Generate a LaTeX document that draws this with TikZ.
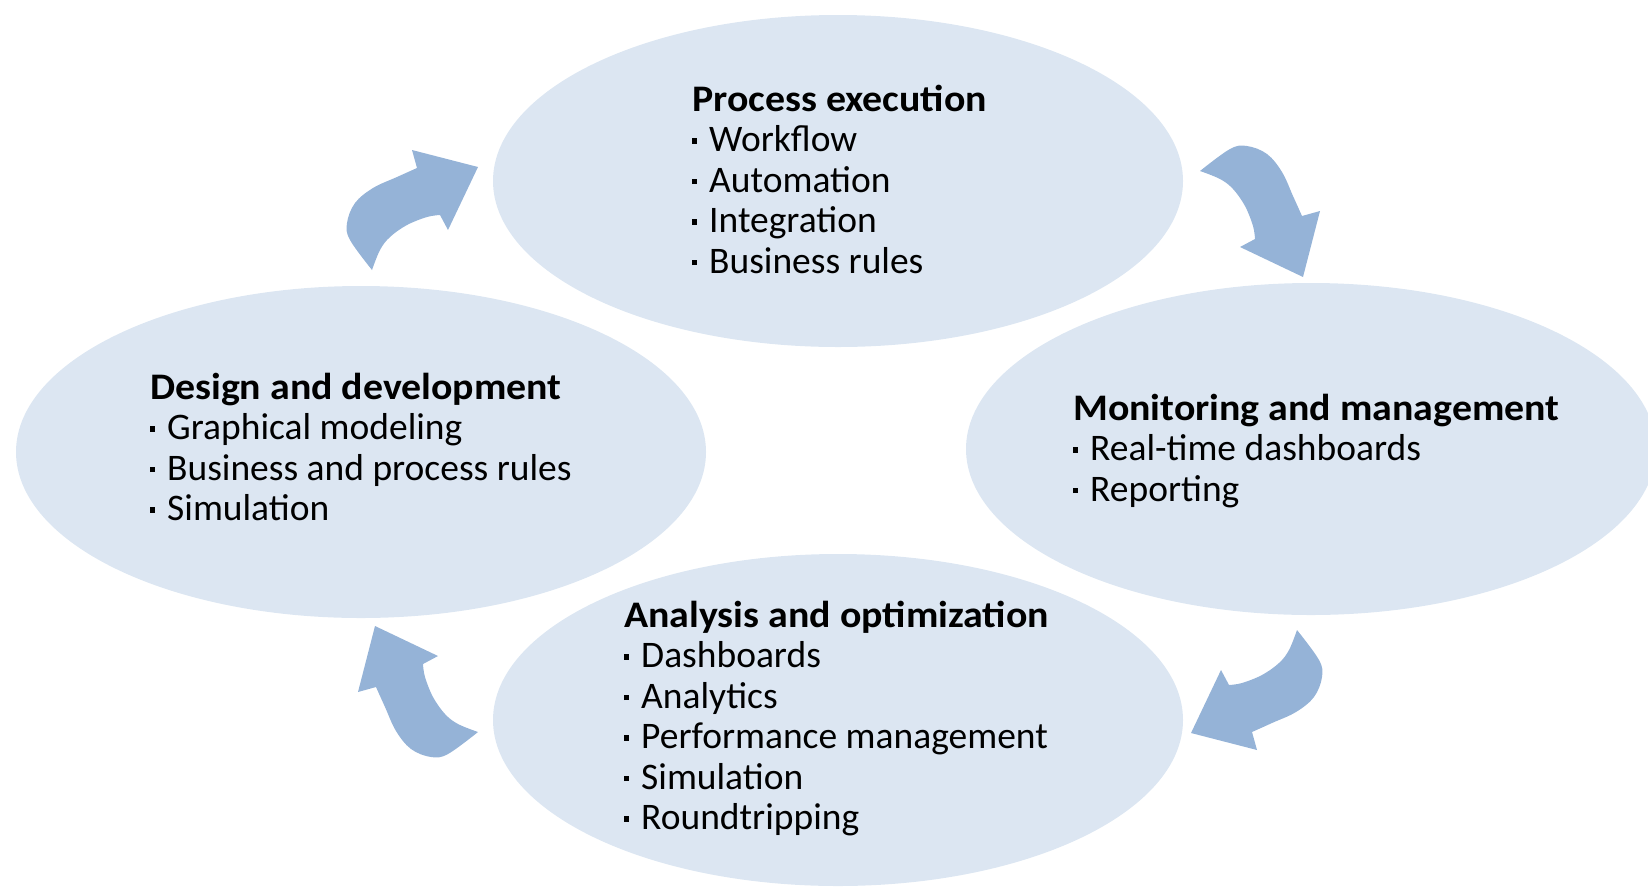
\documentclass[tikz,border=0pt]{standalone}
\usepackage{fontspec}
\setmainfont{Carlito}
\usetikzlibrary{shapes.geometric}
\definecolor{ellfill}{HTML}{DCE6F2}
\definecolor{arrfill}{HTML}{95B3D7}
\newcommand\bul{\makebox[17pt][l]{\raisebox{8pt}{\rule{5pt}{5.5pt}}}}
\newcommand\phead[1]{\scalebox{1.063}[1]{\textbf{#1}}}
\begin{document}
\begin{tikzpicture}[x=1pt,y=-1pt,
  phase/.style={ellipse, fill=ellfill, minimum width=690pt, minimum height=332pt, inner sep=0pt},
  phasetext/.style={anchor=base west, inner sep=0pt, font=\fontsize{37.5}{40.5}\selectfont},
  bendarrow/.pic={
    \fill[arrfill] plot[smooth,tension=0.6] coordinates {(-40,60) (-62,30) (-65,13) (-57,-7) (-39,-22) (-15,-33) (5,-42)}
      -- (0,-60) -- (66,-43) -- (36,20)
      -- plot[smooth,tension=0.6] coordinates {(28,5) (15,7) (-5,15) (-22,27) (-32,40) (-40,60)} -- cycle;
  }]
\useasboundingbox (0,0) rectangle (1648,887);
\node[phase] (exec) at (838,181) {};
\node[phase] (design) at (361,452) {};
\node[phase] (monitor) at (1311,449) {};
\node[phase] (analysis) at (838,720) {};

\node[phasetext] (exectext) at (692,111) {\begin{tabular}[t]{@{}l@{}}\phead{Process execution}\\ \bul Workflow\\ \bul Automation\\ \bul Integration\\ \bul Business rules\end{tabular}};
\node[phasetext] (designtext) at (150,399) {\begin{tabular}[t]{@{}l@{}}\phead{Design and development}\\ \bul Graphical modeling\\ \bul Business and process rules\\ \bul Simulation\end{tabular}};
\node[phasetext] (monitortext) at (1073,420) {\begin{tabular}[t]{@{}l@{}}\phead{Monitoring and management}\\ \bul Real-time dashboards\\ \bul Reporting\end{tabular}};
\node[phasetext] (analysistext) at (624,627) {\begin{tabular}[t]{@{}l@{}}\phead{Analysis and optimization}\\ \bul Dashboards\\ \bul Analytics\\ \bul Performance management\\ \bul Simulation\\ \bul Roundtripping\end{tabular}};

\coordinate (a1) at (412,210);
\coordinate (a2) at (1260,211);
\coordinate (a3) at (1257,690);
\coordinate (a4) at (418,692);
\pic at (a1) {bendarrow};
\pic[rotate=-90] at (a2) {bendarrow};
\pic[rotate=180] at (a3) {bendarrow};
\pic[rotate=90] at (a4) {bendarrow};
\end{tikzpicture}
\end{document}
